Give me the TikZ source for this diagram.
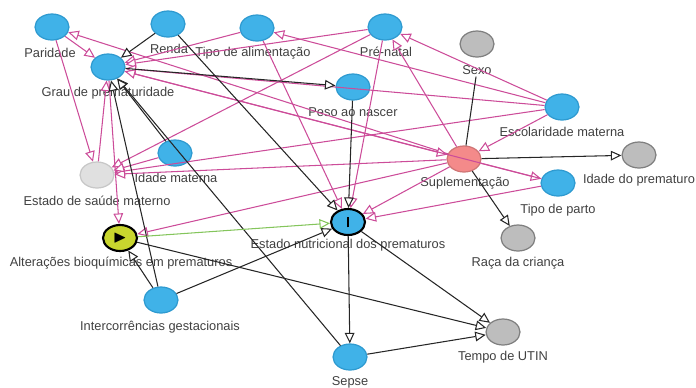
\documentclass[tikz,border=0pt]{standalone}
\usepackage{fontspec}
\setmainfont{Liberation Sans}
\usepackage{amssymb}
\usetikzlibrary{shapes.geometric,arrows.meta}
\definecolor{ancblue}{HTML}{40B2E8}
\definecolor{ancedge}{HTML}{2E9AD0}
\definecolor{othgray}{HTML}{BDBDBD}
\definecolor{othedge}{HTML}{7F7F7F}
\definecolor{confred}{HTML}{F48A8A}
\definecolor{biaspink}{HTML}{CC4C99}
\definecolor{causgreen}{HTML}{84C55C}
\definecolor{expyellow}{HTML}{C9D62E}
\definecolor{txtgray}{HTML}{404040}
\tikzset{
  var/.style={ellipse, draw, line width=0.7pt, minimum width=0.68cm, minimum height=0.52cm, inner sep=0pt},
  anc/.style={var, fill=ancblue, draw=ancedge},
  oth/.style={var, fill=othgray, draw=othedge},
  conf/.style={var, fill=confred, draw=confred!85!black},
  lat/.style={var, fill=black!12, draw=black!22},
  expo/.style={var, fill=expyellow, draw=black, line width=1.2pt},
  outc/.style={var, fill=ancblue, draw=black, line width=1.2pt},
  lbl/.style={text=txtgray, font=\fontsize{7.3}{8}\selectfont, inner sep=1pt},
  edge/.style={line width=0.6pt, -{Triangle[length=6pt, width=5.5pt, fill=white]}},
  bk/.style={edge, draw=black!85},
  pk/.style={edge, draw=biaspink},
  gr/.style={edge, draw=causgreen}
}
\begin{document}
\begin{tikzpicture}[x=0.02cm, y=-0.02cm]
  \useasboundingbox (0,0) rectangle (696,387);
  % variables
  \node[anc] (paridade) at (52,27) {};
  \node[anc] (renda) at (168,24) {};
  \node[anc] (tipoalim) at (257,28) {};
  \node[anc] (prenatal) at (385,27) {};
  \node[oth] (sexo) at (477,44) {};
  \node[anc] (grau) at (108,67) {};
  \node[anc] (peso) at (353,87) {};
  \node[anc] (escol) at (562,107) {};
  \node[conf] (supl) at (464,159) {};
  \node[anc] (idadem) at (175,153) {};
  \node[lat] (saude) at (97,175) {};
  \node[oth] (idadep) at (639,155) {};
  \node[anc] (parto) at (558,183) {};
  \node[outc] (estnut) at (348,222) {\rule{1.3pt}{6pt}};
  \node[expo] (alter) at (120,238) {$\blacktriangleright$};
  \node[oth] (raca) at (518,238) {};
  \node[anc] (interc) at (161,300) {};
  \node[oth] (utin) at (503,332) {};
  \node[anc] (sepse) at (350,357) {};
  % labels
  \node[lbl] (paridade-l) at (50,53) {Paridade};
  \node[lbl] (renda-l) at (169,49) {Renda};
  \node[lbl] (tipoalim-l) at (253,53) {Tipo de alimentação};
  \node[lbl] (prenatal-l) at (386,52) {Pré-natal};
  \node[lbl] (sexo-l) at (477,70) {Sexo};
  \node[lbl] (grau-l) at (108,93) {Grau de prematuridade};
  \node[lbl] (peso-l) at (353,112) {Peso ao nascer};
  \node[lbl] (escol-l) at (562,132) {Escolaridade materna};
  \node[lbl] (supl-l) at (465,183) {Suplementação};
  \node[lbl] (idadem-l) at (176,178) {Idade materna};
  \node[lbl] (saude-l) at (97,201) {Estado de saúde materno};
  \node[lbl] (idadep-l) at (639,180) {Idade do prematuro};
  \node[lbl] (parto-l) at (558,210) {Tipo de parto};
  \node[lbl] (estnut-l) at (348,245) {Estado nutricional dos prematuros};
  \node[lbl] (alter-l) at (121,263) {Alterações bioquímicas em prematuros};
  \node[lbl] (raca-l) at (518,263) {Raça da criança};
  \node[lbl] (interc-l) at (160,327) {Intercorrências gestacionais};
  \node[lbl] (utin-l) at (503,357) {Tempo de UTIN};
  \node[lbl] (sepse-l) at (350,382) {Sepse};
  % biasing paths
  \draw[pk] (paridade) -- (grau);
  \draw[pk] (paridade) -- (saude);
  \draw[pk] (supl) -- (paridade);
  \draw[pk] (tipoalim) -- (grau);
  \draw[pk] (tipoalim) -- (estnut);
  \draw[pk] (prenatal) -- (grau);
  \draw[pk] (prenatal) -- (saude);
  \draw[pk] (prenatal) -- (estnut);
  \draw[pk] (supl) -- (prenatal);
  \draw[pk] (escol) -- (prenatal);
  \draw[pk] (escol) -- (tipoalim);
  \draw[pk] (escol) -- (saude);
  \draw[pk] (escol) -- (supl);
  \draw[pk] (escol) -- (grau);
  \draw[pk] (grau) -- (supl);
  \draw[pk] (saude) -- (grau);
  \draw[pk] (grau) -- (alter);
  \draw[pk] (supl) -- (alter);
  \draw[pk] (supl) -- (estnut);
  \draw[pk] (supl) -- (saude);
  \draw[pk] (supl) -- (parto);
  \draw[pk] (parto) -- (estnut);
  \draw[pk] (parto) -- (grau);
  \draw[pk] (idadem) -- (saude);
  % other arrows
  \draw[bk] (renda) -- (grau);
  \draw[bk] (renda) -- (estnut);
  \draw[bk] (grau) -- (peso);
  \draw[bk] (sepse) -- (grau);
  \draw[bk] (idadem) -- (grau);
  \draw[bk] (interc) -- (grau);
  \draw[bk] (peso) -- (estnut);
  \draw[bk] (interc) -- (alter);
  \draw[bk] (interc) -- (estnut);
  \draw[bk] (alter) -- (utin);
  \draw[bk] (estnut) -- (sepse);
  \draw[bk] (estnut) -- (utin);
  \draw[bk] (sepse) -- (utin);
  \draw[bk] (supl) -- (idadep);
  \draw[bk] (supl) -- (raca);
  \draw[black!85, line width=0.6pt] (supl) -- (sexo-l);
  % causal path
  \draw[gr] (alter) -- (estnut);
\end{tikzpicture}
\end{document}
